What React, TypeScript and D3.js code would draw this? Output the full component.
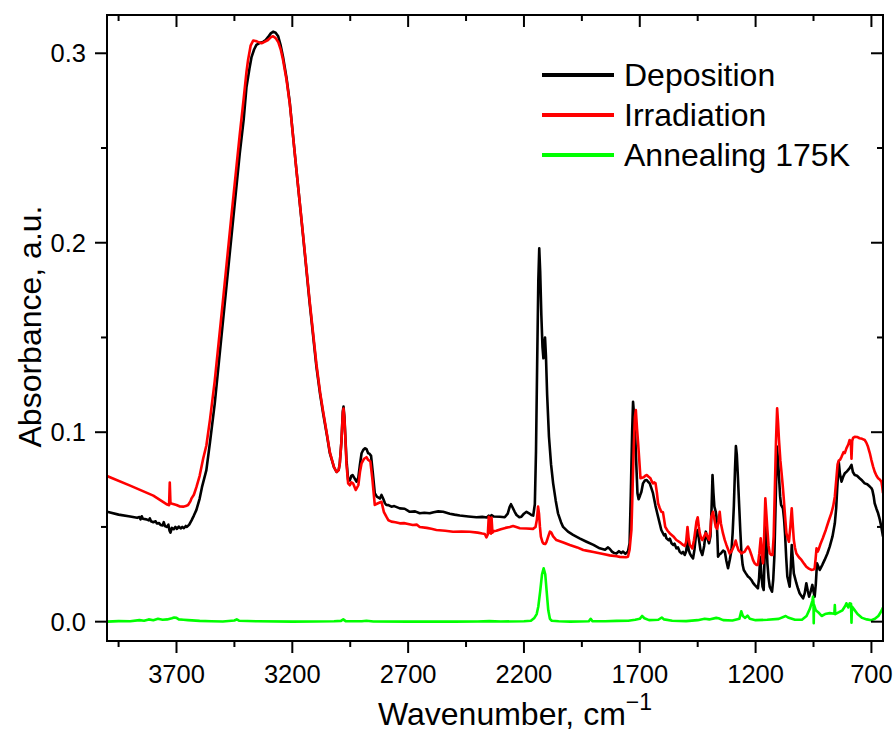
import React from "react";
import * as d3 from "d3";

// ---------- data (wavenumber cm^-1, absorbance) ----------
const deposition: [number, number][] = [
  [4000, 0.058], [3950, 0.0565], [3900, 0.0555], [3870, 0.0548], [3860, 0.0552], [3855, 0.054], [3850, 0.0556], [3845, 0.0543],
  [3830, 0.054], [3820, 0.0535], [3815, 0.0545], [3810, 0.053], [3800, 0.0525], [3790, 0.053], [3785, 0.0518], [3775, 0.052],
  [3768, 0.051], [3760, 0.0508], [3755, 0.0525], [3750, 0.0505], [3742, 0.05], [3735, 0.0512], [3730, 0.048], [3726, 0.047],
  [3720, 0.0495], [3712, 0.0488], [3705, 0.05], [3698, 0.049], [3690, 0.0502], [3682, 0.0492], [3675, 0.05], [3668, 0.0494],
  [3660, 0.0505], [3655, 0.05], [3645, 0.0512], [3635, 0.0535], [3625, 0.056], [3614, 0.059], [3600, 0.065], [3590, 0.071],
  [3571, 0.08], [3555, 0.095], [3535, 0.115], [3499, 0.159], [3463, 0.203], [3427, 0.247], [3410, 0.265], [3398, 0.282],
  [3385, 0.292], [3376, 0.298], [3365, 0.302], [3355, 0.3044], [3340, 0.3055], [3326, 0.306], [3315, 0.307], [3305, 0.3085],
  [3293, 0.3105], [3283, 0.3114], [3272, 0.3108], [3261, 0.309], [3250, 0.304], [3240, 0.298], [3225, 0.287], [3211, 0.274],
  [3182, 0.238], [3153, 0.203], [3125, 0.168], [3096, 0.1346], [3080, 0.12], [3067, 0.11], [3050, 0.098], [3038, 0.0889],
  [3020, 0.0815], [3009, 0.079], [3000, 0.08], [2995, 0.0837], [2988, 0.095], [2982, 0.111], [2979, 0.1135], [2975, 0.108],
  [2970, 0.095], [2966, 0.085], [2959, 0.0748], [2952, 0.0745], [2945, 0.077], [2940, 0.0774], [2933, 0.076], [2923, 0.0739],
  [2915, 0.076], [2908, 0.083], [2901, 0.0889], [2894, 0.0906], [2887, 0.0915], [2880, 0.0912], [2873, 0.089], [2866, 0.0885],
  [2860, 0.0875], [2852, 0.078], [2844, 0.0678], [2835, 0.066], [2822, 0.065], [2815, 0.0669], [2808, 0.065], [2800, 0.0625],
  [2794, 0.0616], [2785, 0.0615], [2772, 0.0607], [2760, 0.061], [2736, 0.0598], [2715, 0.0596], [2693, 0.058], [2670, 0.0582],
  [2650, 0.0572], [2630, 0.0575], [2607, 0.0572], [2590, 0.0578], [2570, 0.0582], [2549, 0.058], [2520, 0.057], [2500, 0.0565],
  [2477, 0.056], [2440, 0.0555], [2405, 0.0551], [2380, 0.0553], [2360, 0.055], [2352, 0.056], [2348, 0.0554], [2340, 0.0562],
  [2330, 0.0555], [2304, 0.0554], [2283, 0.0551], [2270, 0.057], [2262, 0.0605], [2256, 0.062], [2250, 0.0605], [2240, 0.058],
  [2232, 0.0563], [2220, 0.0551], [2211, 0.0554], [2200, 0.057], [2189, 0.058], [2178, 0.0572], [2168, 0.0563], [2160, 0.056],
  [2153, 0.062], [2148, 0.09], [2143, 0.136], [2138, 0.18], [2134, 0.197], [2130, 0.185], [2125, 0.162], [2120, 0.145],
  [2116, 0.139], [2112, 0.146], [2109, 0.15], [2105, 0.14], [2100, 0.12], [2092, 0.0976], [2083, 0.083], [2074, 0.073],
  [2063, 0.064], [2053, 0.0572], [2040, 0.0525], [2031, 0.05], [2010, 0.0475], [1988, 0.0458], [1960, 0.044], [1930, 0.0422],
  [1900, 0.0405], [1873, 0.0387], [1850, 0.038], [1838, 0.0392], [1830, 0.0385], [1820, 0.037], [1810, 0.0362], [1801, 0.036],
  [1790, 0.0372], [1780, 0.0362], [1772, 0.037], [1762, 0.0358], [1751, 0.037], [1744, 0.0414], [1739, 0.066], [1733, 0.1],
  [1729, 0.116], [1724, 0.108], [1719, 0.096], [1714, 0.08], [1710, 0.0678], [1705, 0.0646], [1699, 0.0665], [1693, 0.0686],
  [1686, 0.073], [1678, 0.0745], [1671, 0.0748], [1665, 0.074], [1657, 0.073], [1650, 0.0705], [1643, 0.0678], [1632, 0.061],
  [1621, 0.0554], [1607, 0.0484], [1595, 0.0455], [1590, 0.0462], [1585, 0.044], [1575, 0.043], [1570, 0.0438], [1563, 0.0414],
  [1555, 0.0405], [1550, 0.0412], [1542, 0.0387], [1535, 0.0392], [1528, 0.037], [1520, 0.036], [1513, 0.0368], [1506, 0.0352],
  [1500, 0.037], [1494, 0.0431], [1489, 0.038], [1484, 0.036], [1477, 0.0345], [1470, 0.0334], [1464, 0.038], [1458, 0.0449],
  [1450, 0.0484], [1444, 0.043], [1438, 0.0378], [1430, 0.0352], [1422, 0.04], [1415, 0.0475], [1408, 0.044], [1401, 0.0414],
  [1395, 0.0449], [1390, 0.06], [1386, 0.0774], [1382, 0.068], [1378, 0.0607], [1372, 0.058], [1369, 0.0554], [1365, 0.045],
  [1362, 0.0343], [1356, 0.0355], [1350, 0.036], [1340, 0.0375], [1333, 0.037], [1326, 0.032], [1319, 0.0282], [1311, 0.033],
  [1304, 0.0378], [1299, 0.047], [1294, 0.0607], [1289, 0.08], [1285, 0.0927], [1281, 0.088], [1277, 0.078], [1272, 0.0642],
  [1266, 0.048], [1261, 0.036], [1256, 0.03], [1251, 0.0273], [1242, 0.0255], [1233, 0.0238], [1225, 0.023], [1218, 0.022],
  [1211, 0.0205], [1204, 0.0194], [1197, 0.0185], [1190, 0.0176], [1185, 0.023], [1180, 0.0343], [1175, 0.025], [1170, 0.0185],
  [1165, 0.0167], [1161, 0.035], [1157, 0.0537], [1153, 0.042], [1149, 0.0308], [1144, 0.023], [1139, 0.0185], [1129, 0.0158],
  [1124, 0.022], [1119, 0.0343], [1113, 0.065], [1108, 0.0924], [1103, 0.085], [1099, 0.0765], [1094, 0.066], [1090, 0.0616],
  [1082, 0.0598], [1077, 0.054], [1073, 0.0467], [1068, 0.034], [1063, 0.0238], [1053, 0.0185], [1048, 0.029], [1044, 0.0405],
  [1040, 0.034], [1035, 0.0255], [1024, 0.0203], [1017, 0.0175], [1010, 0.015], [1002, 0.0135], [995, 0.0123], [988, 0.015],
  [981, 0.0203], [975, 0.0165], [969, 0.0132], [962, 0.016], [955, 0.0194], [950, 0.016], [945, 0.0132], [940, 0.02],
  [935, 0.0308], [929, 0.029], [923, 0.0273], [912, 0.03], [902, 0.0326], [890, 0.036], [880, 0.0396], [868, 0.045],
  [858, 0.0519], [852, 0.06], [848, 0.0695], [843, 0.08], [841, 0.0844], [836, 0.078], [829, 0.0739], [822, 0.0765],
  [815, 0.0783], [808, 0.079], [801, 0.08], [794, 0.081], [786, 0.0827], [780, 0.079], [772, 0.0774], [762, 0.077],
  [751, 0.0757], [740, 0.0745], [729, 0.073], [718, 0.0725], [707, 0.0713], [700, 0.0705], [696, 0.0695], [690, 0.066],
  [686, 0.0625], [678, 0.0595], [671, 0.0572], [664, 0.054], [657, 0.05], [650, 0.0449],
];

const irradiation: [number, number][] = [
  [4000, 0.0769], [3900, 0.0718], [3800, 0.0665], [3740, 0.0618], [3732, 0.0615], [3729, 0.0734], [3726, 0.0625], [3718, 0.0622],
  [3700, 0.0616], [3685, 0.0608], [3671, 0.0607], [3660, 0.061], [3650, 0.0616], [3640, 0.0635], [3635, 0.0651], [3625, 0.067],
  [3614, 0.071], [3600, 0.077], [3585, 0.086], [3571, 0.093], [3555, 0.107], [3535, 0.127], [3499, 0.17], [3463, 0.214],
  [3427, 0.257], [3410, 0.276], [3398, 0.29], [3391, 0.2965], [3380, 0.304], [3369, 0.3067], [3358, 0.3065], [3348, 0.306],
  [3333, 0.3053], [3320, 0.306], [3305, 0.307], [3292, 0.3085], [3283, 0.309], [3272, 0.308], [3261, 0.306], [3250, 0.302],
  [3240, 0.2965], [3225, 0.286], [3211, 0.2735], [3182, 0.238], [3153, 0.2035], [3125, 0.169], [3096, 0.136], [3080, 0.121],
  [3067, 0.111], [3050, 0.0985], [3038, 0.0895], [3020, 0.0815], [3009, 0.079], [3000, 0.08], [2995, 0.0835], [2988, 0.095],
  [2982, 0.11], [2979, 0.1125], [2975, 0.107], [2970, 0.094], [2966, 0.083], [2959, 0.073], [2952, 0.072], [2945, 0.0735],
  [2938, 0.073], [2926, 0.0695], [2915, 0.072], [2908, 0.079], [2901, 0.0836], [2890, 0.086], [2880, 0.0868], [2873, 0.0855],
  [2863, 0.0845], [2855, 0.076], [2844, 0.0616], [2830, 0.0625], [2815, 0.0633], [2805, 0.058], [2794, 0.0554], [2785, 0.0535],
  [2772, 0.0528], [2755, 0.0525], [2736, 0.0519], [2718, 0.052], [2700, 0.0516], [2680, 0.051], [2662, 0.0512], [2650, 0.05],
  [2620, 0.0495], [2600, 0.049], [2578, 0.0484], [2540, 0.048], [2506, 0.0475], [2470, 0.0476], [2434, 0.0475], [2400, 0.047],
  [2380, 0.0465], [2369, 0.0463], [2362, 0.0445], [2356, 0.046], [2352, 0.0554], [2348, 0.047], [2343, 0.0465], [2340, 0.055],
  [2336, 0.047], [2330, 0.0478], [2319, 0.048], [2300, 0.0488], [2280, 0.0495], [2261, 0.05], [2247, 0.0505], [2230, 0.0498],
  [2218, 0.0493], [2190, 0.0492], [2161, 0.049], [2150, 0.05], [2144, 0.054], [2139, 0.0607], [2135, 0.057], [2131, 0.05],
  [2127, 0.0449], [2120, 0.042], [2115, 0.0412], [2108, 0.041], [2103, 0.042], [2095, 0.045], [2088, 0.0475], [2082, 0.047],
  [2074, 0.045], [2060, 0.0431], [2030, 0.0418], [2002, 0.0405], [1970, 0.0392], [1944, 0.0378], [1930, 0.0375], [1900, 0.0368],
  [1858, 0.0357], [1830, 0.035], [1800, 0.0345], [1786, 0.0342], [1760, 0.034], [1751, 0.0343], [1744, 0.038], [1736, 0.0484],
  [1731, 0.07], [1726, 0.0924], [1721, 0.108], [1717, 0.1117], [1712, 0.102], [1707, 0.094], [1702, 0.085], [1697, 0.0757],
  [1690, 0.076], [1683, 0.0762], [1676, 0.077], [1669, 0.0774], [1662, 0.0765], [1654, 0.0757], [1648, 0.074], [1643, 0.073],
  [1637, 0.0735], [1632, 0.073], [1626, 0.068], [1621, 0.0625], [1614, 0.06], [1607, 0.058], [1600, 0.0578], [1595, 0.054],
  [1590, 0.05], [1580, 0.048], [1571, 0.0467], [1555, 0.045], [1542, 0.0431], [1528, 0.042], [1513, 0.0405], [1506, 0.04],
  [1500, 0.042], [1494, 0.05], [1489, 0.044], [1484, 0.0405], [1478, 0.0395], [1473, 0.0387], [1466, 0.043], [1460, 0.0484],
  [1455, 0.053], [1450, 0.0551], [1445, 0.05], [1441, 0.0467], [1435, 0.044], [1430, 0.0431], [1422, 0.045], [1415, 0.0467],
  [1408, 0.045], [1401, 0.0431], [1395, 0.048], [1391, 0.0554], [1384, 0.058], [1378, 0.054], [1372, 0.05], [1366, 0.049],
  [1360, 0.053], [1355, 0.058], [1350, 0.052], [1341, 0.0467], [1333, 0.043], [1326, 0.0405], [1312, 0.036], [1305, 0.037],
  [1298, 0.0387], [1292, 0.0405], [1286, 0.0428], [1280, 0.04], [1274, 0.0378], [1261, 0.036], [1247, 0.037], [1240, 0.0385],
  [1233, 0.0396], [1226, 0.038], [1218, 0.0352], [1211, 0.0325], [1204, 0.0308], [1197, 0.03], [1190, 0.03], [1184, 0.036],
  [1178, 0.044], [1173, 0.036], [1168, 0.0308], [1163, 0.045], [1158, 0.0651], [1153, 0.056], [1149, 0.0484], [1144, 0.04],
  [1139, 0.036], [1133, 0.0352], [1127, 0.0352], [1122, 0.045], [1117, 0.0695], [1112, 0.095], [1107, 0.1126], [1103, 0.105],
  [1099, 0.0959], [1093, 0.085], [1087, 0.0774], [1083, 0.072], [1079, 0.066], [1073, 0.056], [1067, 0.0467], [1061, 0.044],
  [1056, 0.0422], [1050, 0.05], [1044, 0.0598], [1040, 0.052], [1035, 0.0431], [1030, 0.039], [1024, 0.036], [1013, 0.034],
  [1002, 0.0326], [990, 0.0305], [981, 0.029], [970, 0.028], [959, 0.0273], [950, 0.0275], [945, 0.0282], [941, 0.033],
  [937, 0.0387], [932, 0.037], [928, 0.038], [920, 0.041], [910, 0.044], [897, 0.0484], [885, 0.053], [873, 0.0572],
  [865, 0.061], [858, 0.066], [851, 0.076], [846, 0.083], [841, 0.085], [835, 0.0855], [829, 0.087], [820, 0.0895],
  [815, 0.089], [808, 0.0915], [800, 0.0935], [794, 0.0959], [789, 0.095], [786, 0.086], [783, 0.0955], [779, 0.097],
  [772, 0.0976], [762, 0.0975], [751, 0.0968], [740, 0.0965], [729, 0.0959], [722, 0.0945], [715, 0.0924], [707, 0.089],
  [700, 0.0853], [693, 0.082], [686, 0.0792], [678, 0.077], [671, 0.0757], [664, 0.075], [657, 0.0739], [653, 0.071],
  [650, 0.0678],
];

const annealing: [number, number][] = [
  [4000, 0.0], [3950, 0.0003], [3900, 0.0002], [3860, 0.0008], [3840, 0.0005], [3820, 0.0012], [3800, 0.0008], [3780, 0.0015],
  [3760, 0.001], [3740, 0.0012], [3720, 0.0018], [3710, 0.0022], [3700, 0.002], [3690, 0.0012], [3670, 0.001], [3650, 0.0008],
  [3600, 0.0004], [3550, 0.0002], [3500, 0.0001], [3450, 0.0006], [3440, 0.0012], [3430, 0.0005], [3350, 0.0002], [3200, 0.0],
  [3100, 0.0001], [3020, 0.0002], [2990, 0.0004], [2980, 0.0012], [2970, 0.0003], [2900, 0.0002], [2880, 0.0005], [2850, 0.0001],
  [2700, 0.0], [2500, 0.0], [2400, 0.0001], [2350, 0.0003], [2300, 0.0001], [2200, 0.0002], [2170, 0.0005], [2155, 0.002],
  [2145, 0.004], [2138, 0.008], [2130, 0.016], [2122, 0.025], [2115, 0.0282], [2108, 0.025], [2102, 0.016], [2095, 0.006],
  [2088, 0.0015], [2080, 0.0005], [2050, 0.0002], [2000, 0.0], [1920, 0.0002], [1912, 0.0015], [1905, 0.0003], [1850, 0.0002],
  [1800, 0.0004], [1750, 0.0005], [1720, 0.001], [1700, 0.0015], [1690, 0.003], [1680, 0.0018], [1660, 0.0008], [1620, 0.001],
  [1605, 0.0022], [1595, 0.0012], [1560, 0.0005], [1500, 0.0003], [1450, 0.0008], [1420, 0.0015], [1400, 0.0012], [1370, 0.002],
  [1360, 0.0018], [1340, 0.0008], [1300, 0.0006], [1270, 0.0015], [1262, 0.0055], [1255, 0.003], [1245, 0.002], [1235, 0.0032],
  [1225, 0.0015], [1200, 0.0008], [1150, 0.001], [1100, 0.0015], [1070, 0.003], [1060, 0.0022], [1030, 0.001], [1000, 0.001],
  [980, 0.003], [965, 0.007], [955, 0.011], [952, 0.0132], [950, 0.01], [949, -0.0008], [948, 0.009], [940, 0.006],
  [930, 0.005], [915, 0.003], [900, 0.004], [880, 0.0045], [860, 0.0042], [858, 0.0088], [856, 0.004], [840, 0.005],
  [825, 0.006], [812, 0.0085], [808, 0.0097], [800, 0.0075], [794, 0.0097], [788, 0.0095], [786, -0.0005], [784, 0.008],
  [775, 0.0065], [760, 0.004], [740, 0.002], [720, 0.0012], [700, 0.0008], [685, 0.0015], [670, 0.003], [660, 0.005],
  [650, 0.0075],
];

const seriesNames = ["Deposition", "Irradiation", "Annealing 175K"];
const seriesColors = ["#000000", "#ff0000", "#00ff00"];

const xMajorTicks = [3700, 3200, 2700, 2200, 1700, 1200, 700];
const xMinorTicks = [3950, 3450, 2950, 2450, 1950, 1450, 950];
const yMajorTicks = [0, 0.1, 0.2, 0.3];
const yMinorTicks = [0.05, 0.15, 0.25];

const xTitle = "Wavenumber, cm";
const xTitleSup = "\u22121";
const yTitle = "Absorbance, a.u.";

// ---------- layout ----------
const W = 896;
const H = 735;
const L = 107, R = 883, T = 15, B = 641;
const FONT = "'Liberation Sans', Arial, Helvetica, sans-serif";

export default function App() {
  const x = d3.scaleLinear().domain([4000, 650]).range([L, R]);
  const y = d3.scaleLinear().domain([-0.0102, 0.3202]).range([B, T]);
  const line = d3
    .line<[number, number]>()
    .x((d) => x(d[0]))
    .y((d) => y(d[1]));
  const series = [deposition, irradiation, annealing];
  const fmt = d3.format(".1f");

  return (
    <svg
      width={W}
      height={H}
      style={{ position: "absolute", left: 0, top: 0, background: "#fff" }}
      fontFamily={FONT}
    >
      <defs>
        <clipPath id="plotclip">
          <rect x={L} y={T} width={R - L} height={B - T} />
        </clipPath>
      </defs>

      <g clipPath="url(#plotclip)" fill="none" strokeLinejoin="round">
        {series.map((s, i) => (
          <path key={i} d={line(s) || ""} stroke={seriesColors[i]} strokeWidth={2.6} />
        ))}
      </g>

      {/* frame */}
      <rect x={L} y={T} width={R - L} height={B - T} fill="none" stroke="#000" strokeWidth={2} />

      {/* x ticks bottom (outward) and top (inward) */}
      {xMajorTicks.map((t) => (
        <g key={"xM" + t}>
          <line x1={x(t)} x2={x(t)} y1={B} y2={B + 12} stroke="#000" strokeWidth={2} />
          <line x1={x(t)} x2={x(t)} y1={T} y2={T + 12} stroke="#000" strokeWidth={2} />
          <text x={x(t)} y={683} fontSize={25.5} textAnchor="middle" fill="#000">
            {t}
          </text>
        </g>
      ))}
      {xMinorTicks.map((t) => (
        <g key={"xm" + t}>
          <line x1={x(t)} x2={x(t)} y1={B} y2={B + 6} stroke="#000" strokeWidth={2} />
          <line x1={x(t)} x2={x(t)} y1={T} y2={T + 6} stroke="#000" strokeWidth={2} />
        </g>
      ))}

      {/* y ticks left (outward) and right (inward) */}
      {yMajorTicks.map((t) => (
        <g key={"yM" + t}>
          <line x1={L - 12} x2={L} y1={y(t)} y2={y(t)} stroke="#000" strokeWidth={2} />
          <line x1={R - 12} x2={R} y1={y(t)} y2={y(t)} stroke="#000" strokeWidth={2} />
          <text x={86} y={y(t) + 9} fontSize={25.5} textAnchor="end" fill="#000">
            {fmt(t)}
          </text>
        </g>
      ))}
      {yMinorTicks.map((t) => (
        <g key={"ym" + t}>
          <line x1={L - 6} x2={L} y1={y(t)} y2={y(t)} stroke="#000" strokeWidth={2} />
          <line x1={R - 6} x2={R} y1={y(t)} y2={y(t)} stroke="#000" strokeWidth={2} />
        </g>
      ))}

      {/* axis titles */}
      <text x={378} y={725} fontSize={32} fill="#000">
        {xTitle}
        <tspan fontSize={23} dy={-15}>
          {xTitleSup}
        </tspan>
      </text>
      <text
        transform={`translate(41, 326.5) rotate(-90)`}
        fontSize={32}
        textAnchor="middle"
        fill="#000"
      >
        {yTitle}
      </text>

      {/* legend */}
      {seriesNames.map((n, i) => (
        <g key={n}>
          <line x1={542} x2={614} y1={75 + i * 40} y2={75 + i * 40} stroke={seriesColors[i]} strokeWidth={4} />
          <text x={624} y={86 + i * 40} fontSize={32} fill="#000">
            {n}
          </text>
        </g>
      ))}
    </svg>
  );
}
